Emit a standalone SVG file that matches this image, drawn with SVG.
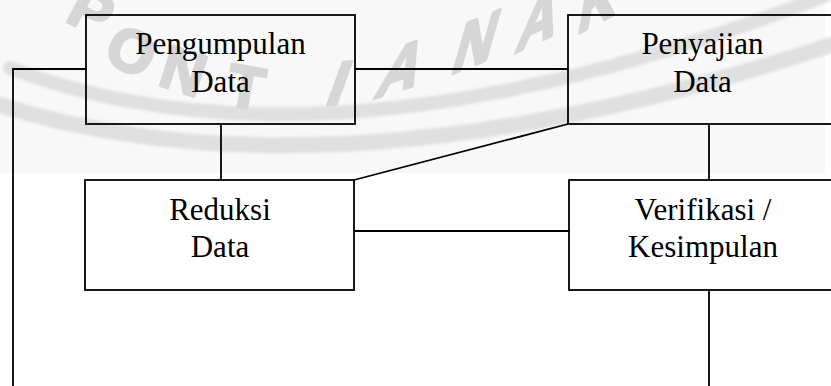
<svg xmlns="http://www.w3.org/2000/svg" width="831" height="386" viewBox="0 0 831 386">
  <defs>
    <style>
      .box { fill: none; stroke: #000; stroke-width: 1.8; }
      .lbl { font-family: "Liberation Serif", "Times New Roman", serif; font-size: 31px; fill: #000; text-anchor: middle; }
      .con { fill: none; stroke: #000; stroke-width: 1.8; }
      .band { fill: none; stroke: #e0e0e0; stroke-linecap: round; }
    </style>
    <filter id="soft" x="-10%" y="-50%" width="120%" height="200%">
      <feGaussianBlur stdDeviation="1.5"/>
    </filter>
  </defs>
  <rect x="0" y="0" width="831" height="386" fill="#ffffff"/>
  <g id="watermark">
    <rect x="0" y="0" width="825" height="173" fill="#f8f8f8"/>
    <g filter="url(#soft)">
      <path class="band" stroke-width="14" d="M 10,68 Q 330,190 840,-10"/>
      <path class="band" stroke-width="16" d="M -10,102 Q 330,212 840,42"/>
    </g>
    <g style="font-family: 'Liberation Sans', Arial, sans-serif; font-weight: 700; font-size: 60px;" fill="#d6d6d6" stroke="#d6d6d6" stroke-width="3" stroke-linejoin="round" text-anchor="middle">
      <text transform="translate(92,10) rotate(28)" y="22">P</text>
      <text transform="translate(132,50) rotate(25)" y="22">O</text>
      <text transform="translate(184,70) rotate(18)" y="22">N</text>
      <text transform="translate(246,86) rotate(10)" y="22">T</text>
      <text transform="translate(340,82) rotate(-5) skewX(-25)" y="22">I</text>
      <text transform="translate(403,66) rotate(-18) skewX(-38)" y="22">A</text>
      <text transform="translate(477,40) rotate(-22) skewX(-38)" y="22">N</text>
      <text transform="translate(540,17) rotate(-25) skewX(-38)" y="22">A</text>
      <text transform="translate(600,-3) rotate(-28) skewX(-38)" y="22">K</text>
    </g>
  </g>
  <g id="connectors">
    <path class="con" d="M13,386 V69 H86"/>
    <path class="con" d="M355,69 H568"/>
    <path class="con" d="M221,124 V180"/>
    <path class="con" d="M568,124 L354,180"/>
    <path class="con" d="M354,231 H569"/>
    <path class="con" d="M709,124 V180"/>
    <path class="con" d="M709,290 V386"/>
  </g>
  <g id="pengumpulan">
    <rect class="box" x="86" y="15" width="269" height="109"/>
    <text class="lbl" x="220.5" y="54">Pengumpulan</text>
    <text class="lbl" x="220.5" y="92">Data</text>
  </g>
  <g id="penyajian">
    <rect class="box" x="568" y="15" width="275" height="109"/>
    <text class="lbl" x="702.5" y="54">Penyajian</text>
    <text class="lbl" x="702.5" y="92">Data</text>
  </g>
  <g id="reduksi">
    <rect class="box" x="85" y="180" width="269" height="110"/>
    <text class="lbl" x="220" y="220">Reduksi</text>
    <text class="lbl" x="220" y="257">Data</text>
  </g>
  <g id="verifikasi">
    <rect class="box" x="569" y="180" width="274" height="110"/>
    <text class="lbl" x="703" y="220">Verifikasi /</text>
    <text class="lbl" x="703" y="257">Kesimpulan</text>
  </g>
</svg>
